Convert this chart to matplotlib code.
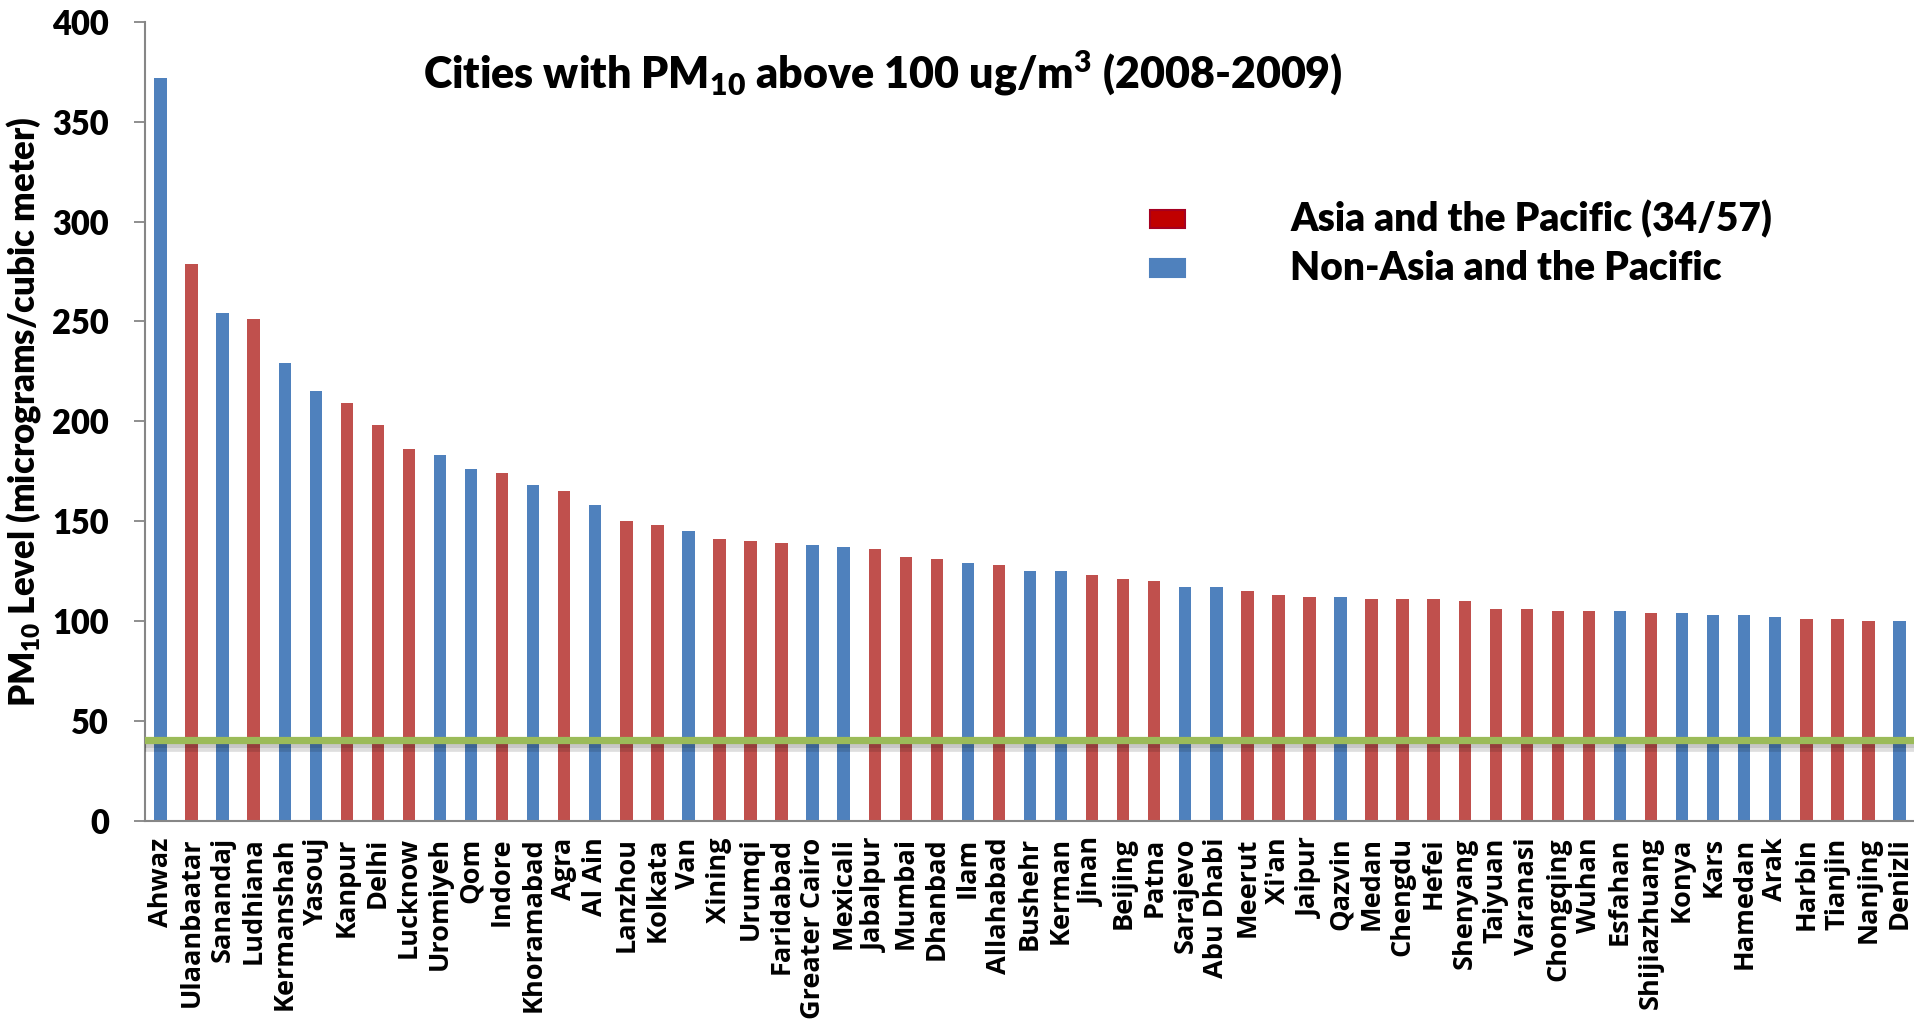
import matplotlib.pyplot as plt
from matplotlib.patches import Rectangle
import numpy as np

# Annual mean PM10 by city, 2008-2009, sorted high to low
cities = ['Ahwaz', 'Ulaanbaatar', 'Sanandaj', 'Ludhiana', 'Kermanshah', 'Yasouj',
          'Kanpur', 'Delhi', 'Lucknow', 'Uromiyeh', 'Qom', 'Indore', 'Khoramabad',
          'Agra', 'Al Ain', 'Lanzhou', 'Kolkata', 'Van', 'Xining', 'Urumqi',
          'Faridabad', 'Greater Cairo', 'Mexicali', 'Jabalpur', 'Mumbai', 'Dhanbad',
          'Ilam', 'Allahabad', 'Bushehr', 'Kerman', 'Jinan', 'Beijing', 'Patna',
          'Sarajevo', 'Abu Dhabi', 'Meerut', "Xi'an", 'Jaipur', 'Qazvin', 'Medan',
          'Chengdu', 'Hefei', 'Shenyang', 'Taiyuan', 'Varanasi', 'Chongqing', 'Wuhan',
          'Esfahan', 'Shijiazhuang', 'Konya', 'Kars', 'Hamedan', 'Arak', 'Harbin',
          'Tianjin', 'Nanjing', 'Denizli']
pm10 = [372, 279, 254, 251, 229, 215,
        209, 198, 186, 183, 176, 174, 168,
        165, 158, 150, 148, 145, 141, 140,
        139, 138, 137, 136, 132, 131,
        129, 128, 125, 125, 123, 121, 120,
        117, 117, 115, 113, 112, 112, 111,
        111, 111, 110, 106, 106, 105, 105,
        105, 104, 104, 103, 103, 102, 101,
        101, 100, 100]
# 'A' = Asia and the Pacific, 'N' = elsewhere
region = ['N', 'A', 'N', 'A', 'N', 'N',
          'A', 'A', 'A', 'N', 'N', 'A', 'N',
          'A', 'N', 'A', 'A', 'N', 'A', 'A',
          'A', 'N', 'N', 'A', 'A', 'A',
          'N', 'A', 'N', 'N', 'A', 'A', 'A',
          'N', 'N', 'A', 'A', 'A', 'N', 'A',
          'A', 'A', 'A', 'A', 'A', 'A', 'A',
          'N', 'A', 'N', 'N', 'N', 'N', 'A',
          'A', 'A', 'N']
guideline = 40.5
legend_labels = ['Asia and the Pacific (34/57)', 'Non-Asia and the Pacific']

RED = '#C0504D'
BLUE = '#4F81BD'
GREEN = '#9BBB59'

plt.rcParams['font.family'] = ['Lato', 'DejaVu Sans']
plt.rcParams['font.weight'] = 'heavy'
plt.rcParams['mathtext.fontset'] = 'custom'
plt.rcParams['mathtext.rm'] = 'Lato:heavy'
plt.rcParams['mathtext.it'] = 'Lato:heavy'
plt.rcParams['mathtext.bf'] = 'Lato:heavy'
plt.rcParams['mathtext.default'] = 'regular'

W, H = 1915, 1022
fig = plt.figure(figsize=(W / 100, H / 100), dpi=100)
ax = fig.add_axes([145 / W, 0.197, 1 - 145 / W, 0.7815])

x = np.arange(len(cities))
colors = [RED if r == 'A' else BLUE for r in region]
ax.bar(x, pm10, width=0.4, color=colors, zorder=2)

# guideline with a soft shadow underneath
ax.axhline(guideline - 3.8, color='black', alpha=0.13, lw=7, zorder=3)
ax.axhline(guideline - 2.0, color='black', alpha=0.10, lw=5, zorder=3)
ax.axhline(guideline, color=GREEN, lw=5.2, zorder=4)

ax.set_xlim(-0.5, len(cities) - 0.5)
ax.set_ylim(0, 400)
ax.set_yticks(range(0, 401, 50))
ax.set_xticks(x)
ax.set_xticklabels(cities, rotation=90, fontsize=19.5, fontweight='bold',
                   family='Open Sans')
ax.tick_params(axis='x', length=0, pad=12)
ax.tick_params(axis='y', length=8, width=1.3, color='#868686', pad=18,
               labelsize=23.5)

for side in ['top', 'right']:
    ax.spines[side].set_visible(False)
for side in ['left', 'bottom']:
    ax.spines[side].set_color('#868686')
    ax.spines[side].set_linewidth(1.5)

fig.text(24 / W, 1 - 412 / H, 'PM$_{10}$ Level (micrograms/cubic meter)',
         rotation=90, ha='center', va='center', fontsize=25)

fig.text(883 / W, 1 - 73 / H, 'Cities with PM$_{10}$ above 100 ug/m$^{3}$ (2008-2009)',
         ha='center', va='center', fontsize=31)

# legend swatches and labels
swatch_colors = [('#C00000', '#A50021'), (BLUE, BLUE)]
for i, (lab, (fc, ec)) in enumerate(zip(legend_labels, swatch_colors)):
    yc = 219 + 49 * i
    fig.patches.append(Rectangle((1150 / W, 1 - (yc + 9) / H), 35 / W, 18 / H,
                                 facecolor=fc, edgecolor=ec, lw=1.5,
                                 transform=fig.transFigure, figure=fig))
    fig.text(1290 / W, 1 - yc / H, lab, ha='left', va='center', fontsize=28)

fig.savefig('out.png', dpi=100)
